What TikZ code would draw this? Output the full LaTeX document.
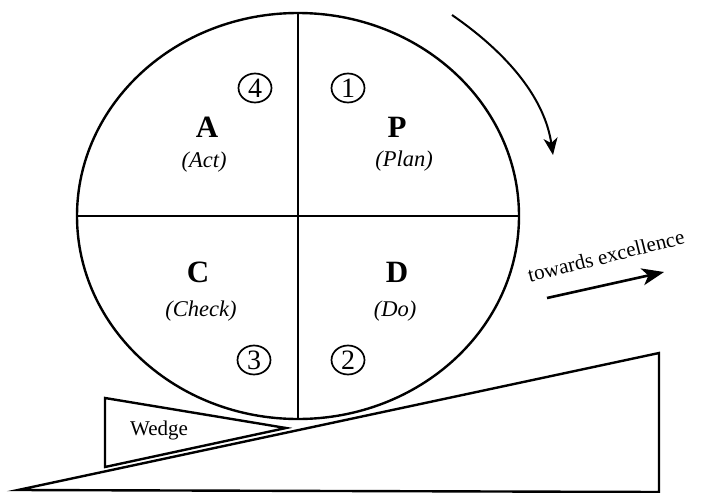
\documentclass[tikz,border=0pt]{standalone}
\usepackage{fontspec}
\setmainfont{Liberation Serif}
\usetikzlibrary{arrows.meta,shapes.geometric}
\begin{document}
\begin{tikzpicture}[x=1pt,y=-1pt,
  ln/.style={line width=2.4pt},
  bigl/.style={font=\fontsize{31}{32}\selectfont\bfseries, inner sep=0pt},
  itl/.style={font=\fontsize{22.5}{24}\selectfont\itshape, inner sep=0pt},
  num/.style={draw, ellipse, line width=1.7pt, minimum width=33pt, minimum height=29pt, inner sep=0pt, font=\fontsize{28}{28}\selectfont},
  lbl/.style={font=\fontsize{21}{24}\selectfont, inner sep=0pt},
]
\useasboundingbox (0,0) rectangle (708,492);
% wheel
\node[ln, draw, ellipse, minimum width=442pt, minimum height=406pt, inner sep=0pt, outer sep=0pt] (wheel) at (298,216) {};
\draw[ln] (wheel.north) -- (wheel.south);
\draw[ln] (wheel.west) -- (wheel.east);
% quadrant labels
\node[bigl] (A) at (207,127) {A};
\node[itl] (Act) at (204,162) {(Act)};
\node[bigl] (P) at (397,127) {P};
\node[itl] (Plan) at (404,161) {(Plan)};
\node[bigl] (C) at (198,272) {C};
\node[itl] (Check) at (201,311) {(Check)};
\node[bigl] (D) at (397,272) {D};
\node[itl] (Do) at (395,311) {(Do)};
% step numbers
\node[num] (n4) at (255,88) {4};
\node[num] (n1) at (348,88) {1};
\node[num] (n3) at (254,360) {3};
\node[num] (n2) at (348,360) {2};
% ramp
\coordinate (r1) at (18,490);
\coordinate (r2) at (659,353);
\coordinate (r3) at (659,492);
\draw[ln] (r1) -- (r2) -- (r3) -- cycle;
% wedge
\coordinate (w1) at (105,398);
\coordinate (w2) at (286,428);
\coordinate (w3) at (105,467);
\draw[ln] (w1) -- (w2) -- (w3) -- cycle;
\node[lbl] (wedge) at (159,430) {Wedge};
% rotation arrow
\coordinate (c1) at (452,15);
\coordinate (c2) at (553,155);
\draw[line width=2pt, -{Stealth[length=17pt, width=14pt, inset=5pt]}] (c1) .. controls (510,55) and (545,100) .. (c2);
% towards excellence
\node[lbl, rotate=14] (tow) at (606,256) {towards excellence};
\coordinate (t1) at (547,298);
\coordinate (t2) at (664,272);
\draw[line width=2.6pt, -{Stealth[length=22pt, width=17pt, inset=6pt]}] (t1) -- (t2);
\end{tikzpicture}
\end{document}
